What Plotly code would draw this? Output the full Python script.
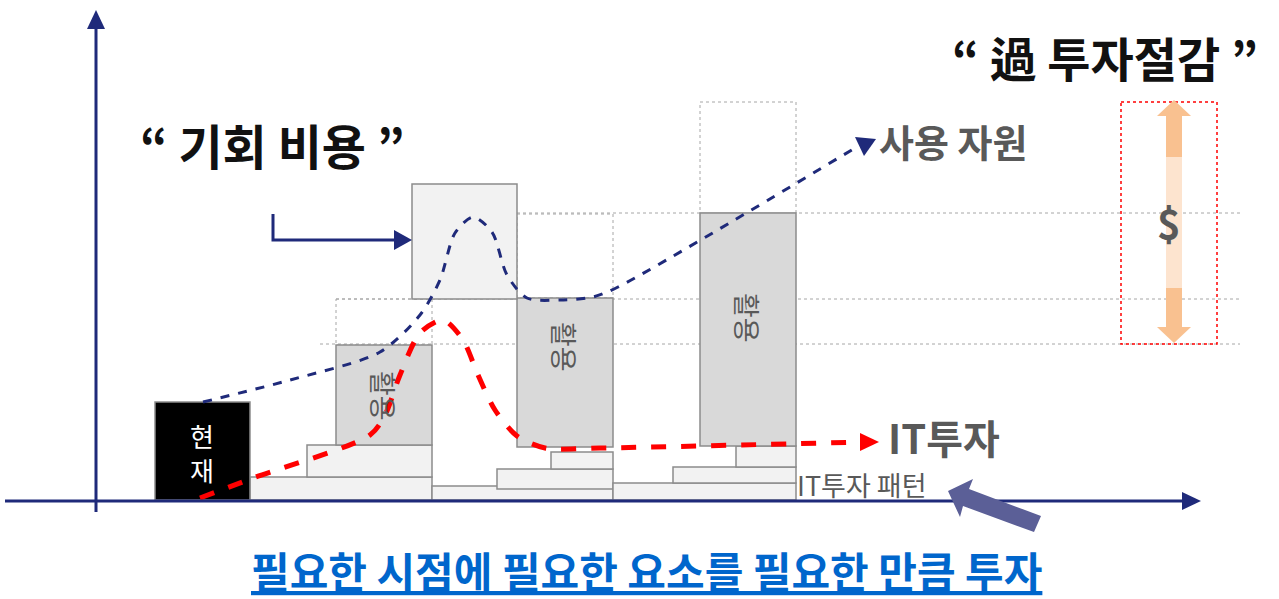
import plotly.graph_objects as go

W, H = 1279, 599
FONT = "Noto Sans CJK KR"

# ---- data (pixel-space diagram coordinates) ----
# current state box
current_box = [155, 250, 402, 500]  # x0, x1, y0, y1
# utilisation bars (x0, x1, top, bottom)
use_bars_x0 = [336, 517, 700]
use_bars_x1 = [432, 613, 796]
use_bars_top = [345, 298, 213]
use_bars_bot = [445, 447, 446]
use_label_y = [396, 347, 318]
# dotted headroom above bars (x0, x1, top)
head_x0 = [336, 517, 700]
head_x1 = [432, 613, 796]
head_top = [299, 214, 102]
# opportunity-cost box
opp_box = [412, 517, 184, 299]
# IT investment pattern steps
step_x0 = [250, 307, 432, 497, 551, 613, 673, 736]
step_x1 = [432, 432, 613, 613, 613, 796, 796, 796]
step_y0 = [477, 445, 486, 469, 452, 483, 467, 446]
step_y1 = [500, 477, 500, 489, 469, 500, 483, 467]
# guide lines (y, x start)
guide_y = [213, 299, 344]
guide_x0 = [517, 336, 320]
guide_x1 = 1240
# used resources curve
res_x = [203, 290, 380, 420, 440, 455, 473, 492, 507, 527, 560, 593, 618, 860]
res_y = [402, 380, 352, 315, 280, 233, 217, 232, 275, 298, 300, 297, 287, 145]
# IT investment curve
it_x = [200, 253, 370, 385, 400, 420, 443, 463, 478, 495, 517, 545, 600, 862]
it_y = [498, 478, 435, 415, 375, 333, 320, 340, 375, 410, 436, 448, 448, 442]

fig = go.Figure()
shapes = []
navy = "#1f2a7a"

# guides
for y, x0 in zip(guide_y, guide_x0):
    shapes.append(dict(type="line", x0=x0, x1=guide_x1, y0=y, y1=y,
                       line=dict(color="#a6a6a6", width=1, dash="dot"), layer="below"))
# headroom dotted rects
for x0, x1, t, b in zip(head_x0, head_x1, head_top, use_bars_top):
    shapes.append(dict(type="rect", x0=x0, x1=x1, y0=t, y1=b,
                       line=dict(color="#a6a6a6", width=1, dash="dot"), layer="below"))
# steps
for x0, x1, y0, y1 in zip(step_x0, step_x1, step_y0, step_y1):
    shapes.append(dict(type="rect", x0=x0, x1=x1, y0=y0, y1=y1, fillcolor="#f2f2f2",
                       line=dict(color="#8c8c8c", width=1.5), layer="below"))
# use bars
for x0, x1, t, b in zip(use_bars_x0, use_bars_x1, use_bars_top, use_bars_bot):
    shapes.append(dict(type="rect", x0=x0, x1=x1, y0=t, y1=b, fillcolor="#d9d9d9",
                       line=dict(color="#8c8c8c", width=1.5), layer="below"))
# opportunity box
shapes.append(dict(type="rect", x0=opp_box[0], x1=opp_box[1], y0=opp_box[2], y1=opp_box[3],
                   fillcolor="#f2f2f2", line=dict(color="#8c8c8c", width=1.5), layer="below"))
# current box
shapes.append(dict(type="rect", x0=current_box[0], x1=current_box[1], y0=current_box[2],
                   y1=current_box[3], fillcolor="#000000", line=dict(color="#8c8c8c", width=1.5),
                   layer="below"))
# red dotted savings box
shapes.append(dict(type="rect", x0=1121, x1=1217, y0=102, y1=344,
                   line=dict(color="#ff0000", width=1.5, dash="dot")))
# orange double arrow
shapes.append(dict(type="rect", x0=1166, x1=1182, y0=157, y1=288, fillcolor="#fde4cf",
                   line=dict(width=0)))
shapes.append(dict(type="rect", x0=1166, x1=1182, y0=115, y1=157, fillcolor="#f9c190",
                   line=dict(width=0)))
shapes.append(dict(type="rect", x0=1166, x1=1182, y0=288, y1=328, fillcolor="#f9c190",
                   line=dict(width=0)))
shapes.append(dict(type="path", path="M 1157 116 L 1174 100 L 1191 116 Z", fillcolor="#f9c190",
                   line=dict(width=0)))
shapes.append(dict(type="path", path="M 1157 327 L 1174 343 L 1191 327 Z", fillcolor="#f9c190",
                   line=dict(width=0)))
# elbow arrow line
shapes.append(dict(type="path", path="M 273 214 L 273 240 L 398 240", line=dict(color=navy, width=3)))
shapes.append(dict(type="path", path="M 394 230 L 412 240 L 394 250 Z", fillcolor=navy,
                   line=dict(width=0)))
# axes
shapes.append(dict(type="line", x0=96, x1=96, y0=512, y1=25, line=dict(color=navy, width=3)))
shapes.append(dict(type="line", x0=5, x1=1185, y0=501, y1=501, line=dict(color=navy, width=3)))
shapes.append(dict(type="path", path="M 87 29 L 96 10 L 105 29 Z", fillcolor=navy, line=dict(width=0)))
shapes.append(dict(type="path", path="M 1182 492 L 1201 501 L 1182 510 Z", fillcolor=navy,
                   line=dict(width=0)))
# arrowheads for curves
shapes.append(dict(type="path", path="M 855 137 L 876 139 L 864 156 Z", fillcolor=navy, line=dict(width=0)))
shapes.append(dict(type="path", path="M 860 433 L 879 442 L 860 451 Z", fillcolor="#ff0000",
                   line=dict(width=0)))
# purple block arrow toward the pattern label
shapes.append(dict(type="path",
                   path="M 948 491 L 973 479 L 969 489 L 1041 516 L 1034 532 L 963 506 L 960 517 Z",
                   fillcolor="#5b5f97", line=dict(width=0)))

fig.add_trace(go.Scatter(x=res_x, y=res_y, mode="lines",
                         line=dict(color=navy, width=3, dash="dash", shape="spline", smoothing=0.8),
                         hoverinfo="skip", showlegend=False))
fig.add_trace(go.Scatter(x=it_x, y=it_y, mode="lines",
                         line=dict(color="#ff0000", width=5, dash="dash", shape="spline", smoothing=0.8),
                         hoverinfo="skip", showlegend=False))

ann = []
for x0, x1, ly in zip(use_bars_x0, use_bars_x1, use_label_y):
    ann.append(dict(x=(x0 + x1) / 2, y=ly, text="활용", textangle=90, showarrow=False,
                    font=dict(family=FONT, size=27, color="#595959")))
ann.append(dict(x=202, y=452, text="현<br>재", showarrow=False,
                font=dict(family=FONT, size=26, color="#ffffff")))
ann.append(dict(x=272, y=144, text="“ 기회 비용 ”", showarrow=False,
                font=dict(family=FONT, size=48, color="#111111", weight="bold")))
ann.append(dict(x=1105, y=56, text="“ 過 투자절감 ”", showarrow=False,
                font=dict(family=FONT, size=47, color="#111111", weight="bold")))
ann.append(dict(x=877, y=140, text="사용 자원", showarrow=False, xanchor="left",
                font=dict(family=FONT, size=38, color="#595959", weight="bold")))
ann.append(dict(x=886, y=437, text="IT투자", showarrow=False, xanchor="left",
                font=dict(family=FONT, size=40, color="#595959", weight="bold")))
ann.append(dict(x=795, y=484, text="IT투자 패턴", showarrow=False, xanchor="left",
                font=dict(family=FONT, size=27, color="#595959")))
ann.append(dict(x=1169, y=222, text="$", showarrow=False,
                font=dict(family=FONT, size=40, color="#595959", weight="bold")))
ann.append(dict(x=646, y=569, text="<u>필요한 시점에 필요한 요소를 필요한 만큼 투자</u>", showarrow=False,
                font=dict(family=FONT, size=42, color="#0066cc", weight="bold")))

fig.update_layout(
    width=W, height=H, margin=dict(l=0, r=0, t=0, b=0),
    paper_bgcolor="white", plot_bgcolor="white",
    xaxis=dict(range=[0, W], visible=False, fixedrange=True),
    yaxis=dict(range=[H, 0], visible=False, fixedrange=True),
    shapes=shapes, annotations=ann, showlegend=False,
)
fig.write_html("out.html", config={"displayModeBar": False},
               post_script="document.body.style.margin='0px';")
